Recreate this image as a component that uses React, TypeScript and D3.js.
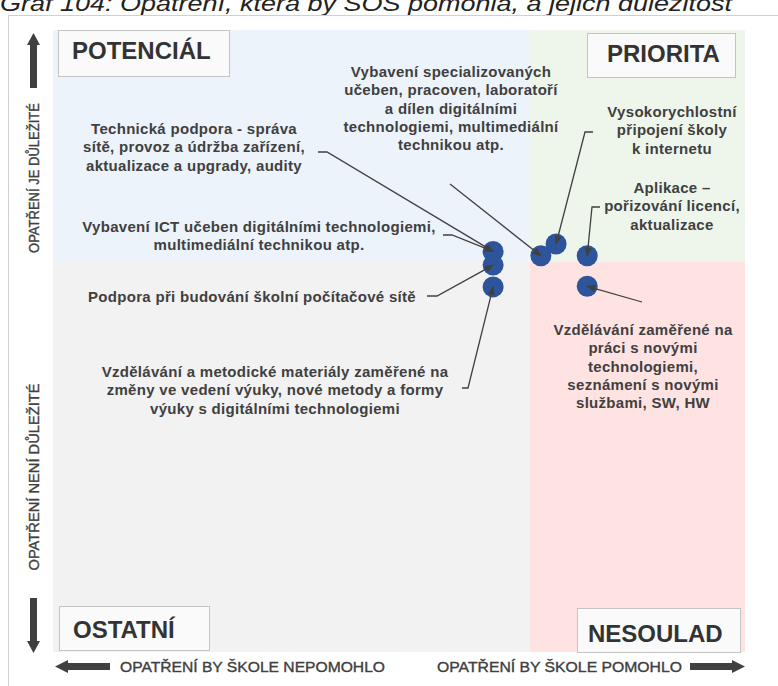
import React from "react";
import * as d3 from "d3";

// ---------- DATA ----------
const measures = [
  "Technická podpora / Vybavení ICT učeben",
  "Podpora při budování školní počítačové sítě",
  "Vzdělávání a metodické materiály",
  "Vybavení specializovaných učeben",
  "Vysokorychlostní připojení školy k internetu",
  "Aplikace – pořizování licencí, aktualizace",
  "Vzdělávání zaměřené na práci s novými technologiemi",
];
// x: share of schools for which the measure would help (%)
const helpValues = [63.6, 63.6, 63.6, 70.5, 72.7, 77.2, 77.2];
// y: importance of the measure (%)
const importanceValues = [64.4, 62.2, 58.7, 63.7, 65.6, 63.7, 58.8];
const xThreshold = 68.9;
const yThreshold = 62.7;

const labelTexts: string[][] = [
  ["Technická podpora - správa", "sítě, provoz a údržba zařízení,", "aktualizace a upgrady, audity"],
  ["Vybavení ICT učeben digitálními technologiemi,", "multimediální technikou atp."],
  ["Podpora při budování školní počítačové sítě"],
  ["Vzdělávání a metodické materiály zaměřené na", "změny ve vedení výuky, nové metody a formy", "výuky s digitálními technologiemi"],
  ["Vybavení specializovaných", "učeben, pracoven, laboratoří", "a dílen digitálními", "technologiemi, multimediální", "technikou atp."],
  ["Vysokorychlostní", "připojení školy", "k internetu"],
  ["Aplikace –", "pořizování licencí,", "aktualizace"],
  ["Vzdělávání zaměřené na", "práci s novými", "technologiemi,", "seznámení s novými", "službami, SW, HW"],
];
const labelTargets = [0, 0, 1, 2, 3, 4, 5, 6];

const quadrantNames = ["POTENCIÁL", "PRIORITA", "OSTATNÍ", "NESOULAD"];
const axisTexts = {
  up: "OPATŘENÍ  JE  DŮLEŽITÉ",
  down: "OPATŘENÍ  NENÍ  DŮLEŽITÉ",
  left: "OPATŘENÍ  BY  ŠKOLE  NEPOMOHLO",
  right: "OPATŘENÍ  BY  ŠKOLE  POMOHLO",
};
const title = "Graf 104: Opatření, která by SOŠ pomohla, a jejich důležitost";

// ---------- LAYOUT ----------
const W = 778;
const H = 686;
const plot = { left: 53, right: 745, top: 30, bottom: 652 };

// label layout: text center x, first baseline y, leader start, elbow
const labelLayout = [
  { x: 194, y: 134, start: [318, 152], elbow: [327, 152] },
  { x: 259, y: 232, start: [443, 235], elbow: [452, 235] },
  { x: 252, y: 302, start: [427, 296], elbow: [437, 296] },
  { x: 275, y: 377, start: [462, 388], elbow: [468, 388] },
  { x: 451, y: 77, start: [450, 184], elbow: null },
  { x: 672, y: 117, start: [593, 132], elbow: [585, 132] },
  { x: 672, y: 193, start: [600, 207], elbow: [592, 207] },
  { x: 643, y: 335, start: [642, 302], elbow: null },
];

const textColor = "#404040";
const font = "'Liberation Sans', Arial, sans-serif";

export default function App() {
  const x = d3.scaleLinear().domain([0, 100]).range([plot.left, plot.right]);
  const y = d3.scaleLinear().domain([0, 100]).range([plot.bottom, plot.top]);
  const xs = x(xThreshold);
  const ys = y(yThreshold);

  const quads = [
    { x0: plot.left, x1: xs, y0: plot.top, y1: ys, fill: "#EDF3FB" },
    { x0: xs, x1: plot.right, y0: plot.top, y1: ys, fill: "#EEF6EC" },
    { x0: plot.left, x1: xs, y0: ys, y1: plot.bottom, fill: "#F2F2F2" },
    { x0: xs, x1: plot.right, y0: ys, y1: plot.bottom, fill: "#FFE3E3" },
  ];

  const boxes = [
    { x: 58, y: 30, w: 171, h: 46, tx: 72, ty: 59 },
    { x: 587, y: 33, w: 148, h: 44, tx: 607, ty: 62 },
    { x: 59, y: 606, w: 150, h: 44, tx: 73, ty: 638 },
    { x: 577, y: 608, w: 163, h: 44, tx: 588, ty: 642 },
  ];

  const line = d3.line();

  const vArrow = (cx: number, tipY: number, tailY: number) => {
    const dir = tailY > tipY ? 1 : -1;
    const headLen = 12;
    const hw = 6.5;
    const sw = 3.5;
    return `M${cx},${tipY} L${cx + hw},${tipY + dir * headLen} L${cx + sw},${tipY + dir * headLen} L${cx + sw},${tailY} L${cx - sw},${tailY} L${cx - sw},${tipY + dir * headLen} L${cx - hw},${tipY + dir * headLen} Z`;
  };
  const hArrow = (cy: number, tipX: number, tailX: number) => {
    const dir = tailX > tipX ? 1 : -1;
    const headLen = 13;
    const hw = 6.5;
    const sw = 3.5;
    return `M${tipX},${cy} L${tipX + dir * headLen},${cy - hw} L${tipX + dir * headLen},${cy - sw} L${tailX},${cy - sw} L${tailX},${cy + sw} L${tipX + dir * headLen},${cy + sw} L${tipX + dir * headLen},${cy + hw} Z`;
  };

  return (
    <svg
      width={W}
      height={H}
      style={{ position: "absolute", left: 0, top: 0, background: "#fff" }}
      fontFamily={font}
    >
      <defs>
        <marker id="ah" viewBox="0 0 10 10" refX="9" refY="5" markerWidth="7" markerHeight="7" orient="auto">
          <path d="M0,1 L10,5 L0,9 Z" fill={textColor} />
        </marker>
      </defs>
      <text x={0} y={11} fontSize={22} fontStyle="italic" fill="#222" textLength={732} lengthAdjust="spacingAndGlyphs">
        {title}
      </text>
      <rect x={8.5} y={15.5} width={W} height={H} fill="none" stroke="#D0D0D0" />

      {quads.map((q, i) => (
        <rect key={i} x={q.x0} y={q.y0} width={q.x1 - q.x0} height={q.y1 - q.y0} fill={q.fill} />
      ))}

      {boxes.map((b, i) => (
        <g key={i}>
          <rect x={b.x + 0.5} y={b.y + 0.5} width={b.w} height={b.h} fill="#FAFAFA" stroke="#C4C4C4" />
          <text x={b.tx} y={b.ty} fontSize={24} fontWeight="bold" fill="#333">
            {quadrantNames[i]}
          </text>
        </g>
      ))}

      <path d={vArrow(33.5, 33, 88)} fill="#404040" />
      <path d={vArrow(33.5, 653, 598)} fill="#404040" />
      <path d={hArrow(666.5, 55, 110)} fill="#404040" />
      <path d={hArrow(666.5, 745, 690)} fill="#404040" />
      <g fill={textColor} stroke={textColor} strokeWidth={0.35} fontSize={14}>
        <text transform="translate(38.5,178) rotate(-90)" textAnchor="middle" textLength={150} lengthAdjust="spacingAndGlyphs">
          {axisTexts.up}
        </text>
        <text transform="translate(38.5,477) rotate(-90)" textAnchor="middle" textLength={187} lengthAdjust="spacingAndGlyphs">
          {axisTexts.down}
        </text>
        <text x={120} y={672} textLength={265} lengthAdjust="spacingAndGlyphs">
          {axisTexts.left}
        </text>
        <text x={437} y={672} textLength={245} lengthAdjust="spacingAndGlyphs">
          {axisTexts.right}
        </text>
      </g>

      {labelTexts.map((lines, i) => {
        const L = labelLayout[i];
        return (
          <text key={i} x={L.x} y={L.y} textAnchor="middle" fontSize={15} letterSpacing={0.3} fontWeight="bold" fill={textColor}>
            {lines.map((t, j) => (
              <tspan key={j} x={L.x} y={L.y + j * 18.3}>
                {t}
              </tspan>
            ))}
          </text>
        );
      })}

      {helpValues.map((v, i) => (
        <circle key={i} cx={x(v)} cy={y(importanceValues[i])} r={10.5} fill="#2E559B" />
      ))}

      {labelLayout.map((L, i) => {
        const t = labelTargets[i];
        const pts: [number, number][] = [L.start as [number, number]];
        if (L.elbow) pts.push(L.elbow as [number, number]);
        pts.push([x(helpValues[t]), y(importanceValues[t])]);
        return (
          <path key={i} d={line(pts) || ""} fill="none" stroke={textColor} strokeWidth={1.3} markerEnd="url(#ah)" />
        );
      })}
    </svg>
  );
}
